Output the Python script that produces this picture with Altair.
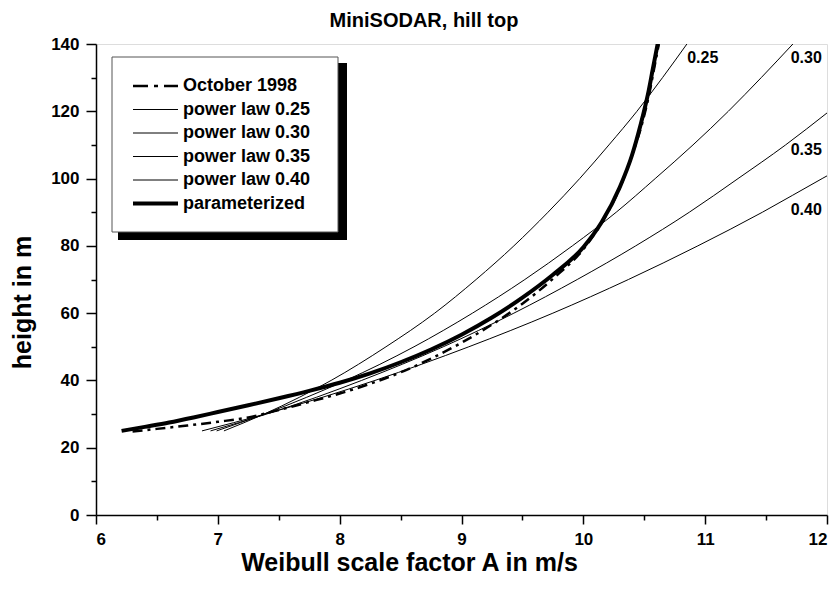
import altair as alt
import pandas as pd

FONT = "Liberation Sans"

# Measured profile (October 1998), Weibull scale factor A [m/s] vs height [m]
oct_speed = [6.30, 6.50, 6.75, 7.00, 7.25, 7.50, 7.75, 8.00, 8.25, 8.50, 8.75, 9.00,
             9.25, 9.50, 9.75, 10.00, 10.15, 10.30, 10.40, 10.48, 10.54, 10.58, 10.62]
oct_height = [24.8, 25.6, 26.6, 27.7, 29.0, 31.2, 33.6, 36.1, 39.0, 42.4, 46.5, 51.2,
              56.6, 62.8, 70.2, 79.0, 86.8, 97.3, 107.0, 116.0, 125.0, 132.5, 140.0]

# Parameterized profile
par_speed = [6.21, 6.40, 6.60, 6.80, 7.00, 7.25, 7.50, 7.75, 8.00, 8.25, 8.50, 8.75,
             9.00, 9.25, 9.50, 9.75, 10.00, 10.15, 10.30, 10.40, 10.47, 10.53, 10.57, 10.61]
par_height = [25.0, 26.2, 27.5, 29.0, 30.6, 32.6, 34.7, 36.9, 39.3, 42.1, 45.4, 49.2,
              53.6, 58.7, 64.6, 71.4, 79.6, 87.0, 97.5, 107.0, 116.0, 125.0, 132.5, 140.0]

# Power law profiles
pl025_speed = [7.05, 7.38, 7.67, 7.93, 8.38, 8.78, 9.12, 9.43, 9.71, 9.97, 10.21, 10.44, 10.65, 10.85]
pl025_height = [25, 30, 35, 40, 50, 60, 70, 80, 90, 100, 110, 120, 130, 140]
pl030_speed = [6.99, 7.38, 7.73, 8.05, 8.61, 9.09, 9.52, 9.91, 10.27, 10.59, 10.90, 11.19, 11.46, 11.72]
pl030_height = [25, 30, 35, 40, 50, 60, 70, 80, 90, 100, 110, 120, 130, 140]
pl035_speed = [6.94, 7.40, 7.81, 8.18, 8.85, 9.43, 9.95, 10.43, 10.87, 11.27, 11.66, 12.00]
pl035_height = [25, 30, 35, 40, 50, 60, 70, 80, 90, 100, 110, 119.5]
pl040_speed = [6.87, 7.39, 7.86, 8.29, 9.06, 9.75, 10.37, 10.94, 11.47, 11.96, 12.00]
pl040_height = [25, 30, 35, 40, 50, 60, 70, 80, 90, 100, 100.8]

# Exponent labels at the right-hand ends of the power law curves
exp_labels = ["0.25", "0.30", "0.35", "0.40"]
exp_label_speed = [10.98, 11.83, 11.83, 11.83]
exp_label_height = [135.8, 135.8, 108.5, 90.7]

x_major = [6, 7, 8, 9, 10, 11, 12]
x_minor = [6.5, 7.5, 8.5, 9.5, 10.5, 11.5]
y_major = [0, 20, 40, 60, 80, 100, 120, 140]
y_minor = [10, 30, 50, 70, 90, 110, 130]

chart_title = "MiniSODAR, hill top"


def profile(name, speeds, heights):
    return pd.DataFrame({"series": name, "speed": speeds, "height": heights,
                         "idx": list(range(len(speeds)))})


thin_df = pd.concat([
    profile("power law 0.25", pl025_speed, pl025_height),
    profile("power law 0.30", pl030_speed, pl030_height),
    profile("power law 0.35", pl035_speed, pl035_height),
    profile("power law 0.40", pl040_speed, pl040_height),
])
oct_df = profile("October 1998", oct_speed, oct_height)
par_df = profile("parameterized", par_speed, par_height)
lab_df = pd.DataFrame({"label": exp_labels, "speed": exp_label_speed, "height": exp_label_height})

x_scale = alt.Scale(domain=[6, 12], nice=False, zero=False)
y_scale = alt.Scale(domain=[0, 140], nice=False, zero=False)

axis_style = dict(domainColor="black", domainWidth=1.5, tickColor="black", tickWidth=1.5,
                  labelColor="black", labelFont=FONT, labelFontWeight="bold",
                  labelFontSize=17, grid=False, titleFont=FONT, titleFontWeight="bold",
                  titleFontSize=25, titleColor="black")

x_axis_major = alt.Axis(orient="bottom", values=x_major, tickSize=9, labelPadding=7,
                        title="Weibull scale factor A in m/s", titleX=313, titleY=55,
                        titleAlign="center", titleBaseline="alphabetic", format="d",
                        **axis_style)
y_axis_major = alt.Axis(orient="left", values=y_major, tickSize=10, labelPadding=7,
                        title="height in m", titleX=-74, titleY=258, titleAngle=270,
                        titleAlign="center", titleBaseline="middle", format="d",
                        **axis_style)
x_axis_minor = alt.Axis(orient="bottom", values=x_minor, tickSize=5, labels=False,
                        domain=False, title=None, grid=False, tickColor="black", tickWidth=1.5)
y_axis_minor = alt.Axis(orient="left", values=y_minor, tickSize=5, labels=False,
                        domain=False, title=None, grid=False, tickColor="black", tickWidth=1.5)

thin = alt.Chart(thin_df).mark_line(color="black", strokeWidth=1, clip=True,
                                    interpolate="monotone").encode(
    x=alt.X("speed:Q", scale=x_scale, axis=x_axis_major),
    y=alt.Y("height:Q", scale=y_scale, axis=y_axis_major),
    detail="series:N",
    order="idx:Q",
)

october = alt.Chart(oct_df).mark_line(color="black", strokeWidth=2.5, clip=True,
                                      strokeDash=[10, 5, 3, 5],
                                      interpolate="monotone").encode(
    x=alt.X("speed:Q", scale=x_scale, axis=x_axis_minor),
    y=alt.Y("height:Q", scale=y_scale, axis=y_axis_minor),
    order="idx:Q",
)

param = alt.Chart(par_df).mark_line(color="black", strokeWidth=4, clip=True,
                                    interpolate="monotone").encode(
    x=alt.X("speed:Q", scale=x_scale, axis=None),
    y=alt.Y("height:Q", scale=y_scale, axis=None),
    order="idx:Q",
)

exp_text = alt.Chart(lab_df).mark_text(font=FONT, fontWeight="bold", fontSize=16,
                                       color="black", align="center",
                                       baseline="middle").encode(
    x=alt.X("speed:Q", scale=x_scale, axis=None),
    y=alt.Y("height:Q", scale=y_scale, axis=None),
    text="label:N",
)

# Chart title above the plot frame
title_text = alt.Chart(pd.DataFrame({"label": [chart_title]})).mark_text(
    font=FONT, fontWeight="bold", fontSize=20, color="black",
    align="center", baseline="alphabetic").encode(
    x=alt.value(328), y=alt.value(-17), text="label:N")

# Legend: drop shadow, framed box, line samples and labels
one = pd.DataFrame({"k": [0]})
shadow = alt.Chart(one).mark_rect(color="black").encode(
    x=alt.value(22), x2=alt.value(251), y=alt.value(19), y2=alt.value(196))
box = alt.Chart(one).mark_rect(fill="white", stroke="#555555", strokeWidth=1).encode(
    x=alt.value(16), x2=alt.value(242), y=alt.value(13), y2=alt.value(188))

legend_entries = [
    ("October 1998", 2.5, [15, 6, 4, 6]),
    ("power law 0.25", 1, None),
    ("power law 0.30", 1, None),
    ("power law 0.35", 1, None),
    ("power law 0.40", 1, None),
    ("parameterized", 4, None),
]
legend_layers = []
for i, (label, width, dash) in enumerate(legend_entries):
    row_y = 42 + 23.5 * i
    rule_kwargs = dict(color="black", strokeWidth=width)
    if dash:
        rule_kwargs["strokeDash"] = dash
    legend_layers.append(
        alt.Chart(one).mark_rule(**rule_kwargs).encode(
            x=alt.value(37), x2=alt.value(82), y=alt.value(row_y)))
    legend_layers.append(
        alt.Chart(pd.DataFrame({"label": [label]})).mark_text(
            font=FONT, fontWeight="bold", fontSize=18, color="black",
            align="left", baseline="middle").encode(
            x=alt.value(87), y=alt.value(row_y), text="label:N"))

chart = alt.layer(
    thin, october, param, exp_text, title_text, shadow, box, *legend_layers
).resolve_axis(
    x="independent", y="independent"
).properties(
    width=731,
    height=471,
    autosize=alt.AutoSizeParams(type="none"),
    padding={"left": 96, "top": 44, "right": 9, "bottom": 78},
).configure_view(
    stroke="black", strokeWidth=1.5
).configure(background="white")

chart.save("out.html", embed_options={"renderer": "svg", "actions": False})
